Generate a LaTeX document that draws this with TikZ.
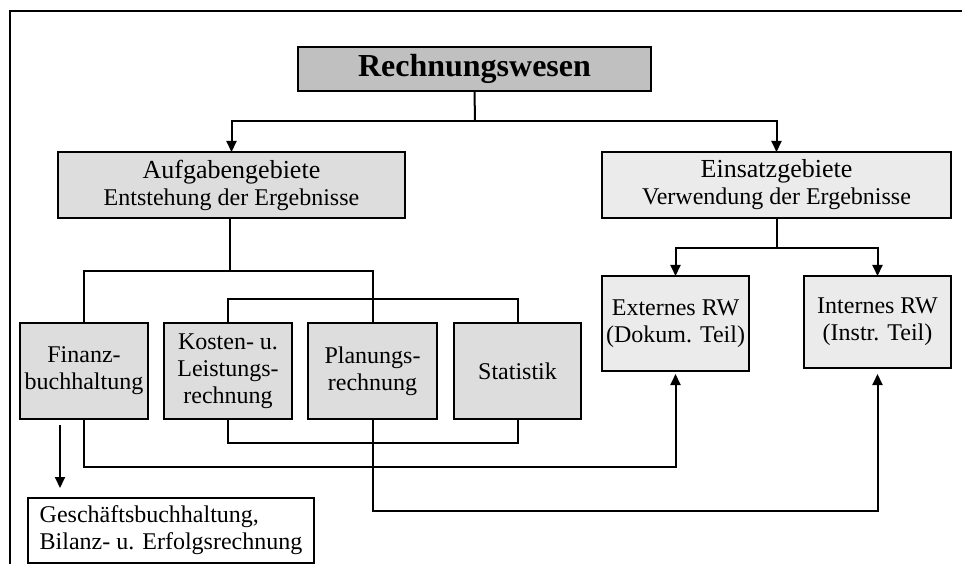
\documentclass[tikz,border=0pt]{standalone}
\usepackage{fontspec}
\setmainfont{Liberation Serif}
\usetikzlibrary{arrows.meta,calc}
\definecolor{gdark}{HTML}{C0C0C0}
\definecolor{gmid}{HTML}{DDDDDD}
\definecolor{glight}{HTML}{EBEBEB}
\begin{document}
\begin{tikzpicture}[x=1pt,y=-1pt,
  every node/.style={inner sep=0pt,outer sep=0pt},
  box/.style={draw,line width=2pt,align=center,font=\fontsize{24}{27}\selectfont},
  conn/.style={line width=2pt},
  arr/.style={line width=2pt,-{Triangle[length=11pt,width=10pt]}}]
\useasboundingbox (0,0) rectangle (962,564);
\draw[line width=2pt] (10,564) -- (10,11) -- (962,11);
% nodes
\node[box,fill=gdark,minimum width=353pt,minimum height=44pt,font=\fontsize{32}{34}\selectfont\bfseries] (rw) at (474.5,69) {Rechnungswesen};
\node[box,fill=gmid,minimum width=347pt,minimum height=66pt] (auf) at (231.5,185)
  {{\fontsize{26}{30}\selectfont Aufgabengebiete}\\Entstehung der Ergebnisse};
\node[box,fill=glight,minimum width=349pt,minimum height=66pt] (ein) at (776.5,185)
  {{\fontsize{26}{30}\selectfont Einsatzgebiete}\\Verwendung der Ergebnisse};
\node[box,fill=gmid,minimum width=128pt,minimum height=96pt] (fin) at (84,371) {Finanz-\\buchhaltung};
\node[box,fill=gmid,minimum width=128pt,minimum height=96pt] (kos) at (228,371) {Kosten- u.\\Leistungs-\\rechnung};
\node[box,fill=gmid,minimum width=129pt,minimum height=96pt] (plan) at (372.5,371) {Planungs-\\rechnung};
\node[box,fill=gmid,minimum width=127pt,minimum height=96pt] (stat) at (517.5,371) {Statistik};
\node[box,fill=glight,minimum width=147pt,minimum height=95pt] (ext) at (675.5,323.5) {Externes RW\\(Dokum. Teil)};
\node[box,fill=glight,minimum width=147pt,minimum height=92pt] (int) at (877.5,322) {Internes RW\\(Instr. Teil)};
\node[box,fill=white,align=left,minimum width=286pt,minimum height=65pt] (gb) at (171,530.5)
  {Geschäftsbuchhaltung,\\Bilanz- u. Erfolgsrechnung};
% connectors
\coordinate (j1) at (475,121);
\draw[conn] (rw.south) -- (j1);
\draw[arr] (j1) -| (auf.north);
\draw[arr] (j1) -| (ein.north);
\coordinate (j2) at (230,271);
\draw[conn] (auf.south -| j2) -- (j2);
\draw[conn] (j2) -| (fin.north);
\draw[conn] (j2) -| (plan.north);
\coordinate (j3) at (228,299);
\draw[conn] (kos.north) -- (j3) -| (stat.north);
\coordinate (j4) at (228,443);
\draw[conn] (kos.south) -- (j4) -| (stat.south);
\coordinate (j5) at (84,467);
\draw[arr] (fin.south) -- (j5) -| ([yshift=-3pt]ext.south);
\coordinate (j6) at (372.5,511);
\draw[arr] (plan.south) -- (j6) -| ([yshift=-6pt]int.south);
\coordinate (j7) at (776.5,248);
\draw[conn] (ein.south) -- (j7);
\draw[arr] (j7) -| (ext.north);
\draw[arr] (j7) -| (int.north);
\draw[arr] ([xshift=40pt,yshift=-6pt]fin.south west) -- ([xshift=32pt,yshift=10pt]gb.north west);
\end{tikzpicture}
\end{document}
